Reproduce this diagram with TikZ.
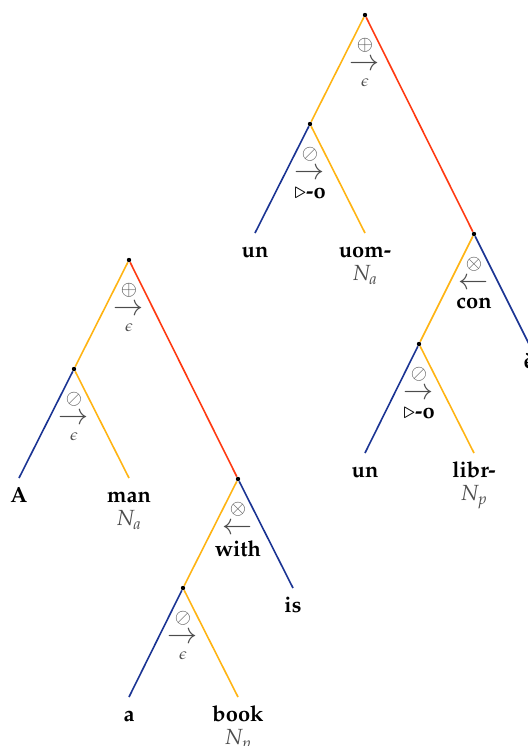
\documentclass[tikz,border=0pt,11pt]{standalone}
\usepackage[T1]{fontenc}
\usepackage{amsmath}
\usepackage{mathpazo}
\usetikzlibrary{positioning}
\definecolor{orng}{HTML}{FFB414}
\definecolor{rd}{HTML}{FF3A12}
\definecolor{blu}{HTML}{1B3493}
\definecolor{opgray}{gray}{0.3}
\newcommand{\opsym}[1]{{\small$#1$}}
\newcommand{\oparr}[1]{{\Large$#1$}}
\begin{document}
\begin{tikzpicture}[x=0.5pt,y=-0.5pt,
    dot/.style={circle,fill,inner sep=0pt,minimum size=2.2pt},
    leaf/.style={anchor=north,font=\bfseries,inner xsep=0pt,inner ysep=4pt,
      text height=1.6ex,text depth=.25ex},
    tag/.style={anchor=base,text=opgray},
    op/.style={inner sep=0pt,text=opgray},
    bra/.style={line width=0.8pt}]
  \useasboundingbox (0,0) rectangle (527,746);
  % left tree: A man with a book is
  \node[dot] (rootL) at (129,260) {};
  \node[dot] (adjL) at (74,369) {};
  \node[dot] (withL) at (238,479) {};
  \node[dot] (detL) at (183,588) {};
  \node[leaf] (A) at (19,478) {A};
  \node[leaf] (man) at (129,478) {man};
  \node[tag] (manT) at ([yshift=-11.5pt]man.base) {$N_a$};
  \node[leaf] (is) at (293,588) {is};
  \node[leaf] (a) at (129,697) {a};
  \node[leaf] (book) at (238,697) {book};
  \node[tag] (bookT) at ([yshift=-11.5pt]book.base) {$N_p$};
  \draw[bra,orng] (rootL) -- (adjL);
  \draw[bra,rd] (rootL) -- (withL);
  \draw[bra,blu] (adjL) -- (A.north);
  \draw[bra,orng] (adjL) -- (man.north);
  \draw[bra,orng] (withL) -- (detL);
  \draw[bra,blu] (withL) -- (is.north);
  \draw[bra,blu] (detL) -- (a.north);
  \draw[bra,orng] (detL) -- (book.north);
  \node[op,below=10pt of rootL] (opRootL) {\shortstack{\opsym\oplus\\[1pt]\oparr\rightarrow\\[1pt]$\scriptstyle\epsilon$}};
  \node[op,below=10pt of adjL] (opAdjL) {\shortstack{\opsym\oslash\\[1pt]\oparr\rightarrow\\[1pt]$\scriptstyle\epsilon$}};
  \node[op,below=10pt of withL] (opWithL) {\shortstack{\opsym\otimes\\[1pt]\oparr\leftarrow\\\textcolor{black}{\textbf{with}}}};
  \node[op,below=10pt of detL] (opDetL) {\shortstack{\opsym\oslash\\[1pt]\oparr\rightarrow\\[1pt]$\scriptstyle\epsilon$}};
  % right tree: un uom-o con un libr-o è
  \node[dot] (rootR) at (365,15) {};
  \node[dot] (adjR) at (310,124) {};
  \node[dot] (conR) at (474,234) {};
  \node[dot] (detR) at (419,344) {};
  \node[leaf] (un) at (255,233) {un};
  \node[leaf] (uom) at (365,233) {uom-};
  \node[tag] (uomT) at ([yshift=-11.5pt]uom.base) {$N_a$};
  \node[leaf] (e) at (529,344) {\`e};
  \node[leaf] (unB) at (365,453) {un};
  \node[leaf] (libr) at (474,453) {libr-};
  \node[tag] (librT) at ([yshift=-11.5pt]libr.base) {$N_p$};
  \draw[bra,orng] (rootR) -- (adjR);
  \draw[bra,rd] (rootR) -- (conR);
  \draw[bra,blu] (adjR) -- (un.north);
  \draw[bra,orng] (adjR) -- (uom.north);
  \draw[bra,orng] (conR) -- (detR);
  \draw[bra,blu] (conR) -- (e.north);
  \draw[bra,blu] (detR) -- (unB.north);
  \draw[bra,orng] (detR) -- (libr.north);
  \node[op,below=10pt of rootR] (opRootR) {\shortstack{\opsym\oplus\\[1pt]\oparr\rightarrow\\[1pt]$\scriptstyle\epsilon$}};
  \node[op,below=10pt of adjR] (opAdjR) {\shortstack{\opsym\oslash\\[1pt]\oparr\rightarrow\\[1pt]\textcolor{black}{$\triangleright$\textbf{-o}}}};
  \node[op,below=10pt of conR] (opConR) {\shortstack{\opsym\otimes\\[1pt]\oparr\leftarrow\\[1pt]\textcolor{black}{\textbf{con}}}};
  \node[op,below=10pt of detR] (opDetR) {\shortstack{\opsym\oslash\\[1pt]\oparr\rightarrow\\[1pt]\textcolor{black}{$\triangleright$\textbf{-o}}}};
\end{tikzpicture}
\end{document}
